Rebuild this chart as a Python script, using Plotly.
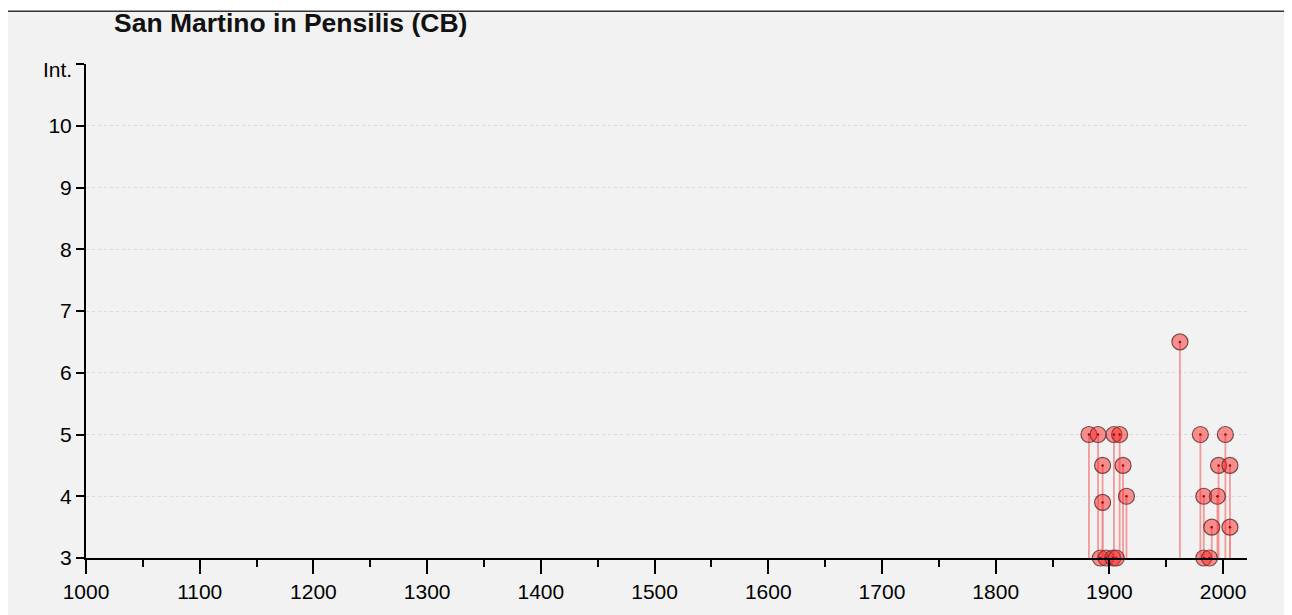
import plotly.graph_objects as go

# ---- data ----
years = [1882, 1890, 1904, 1909, 1894, 1912, 1894, 1915, 1892, 1897, 1903, 1906,
         1962, 1980, 2002, 1996, 2006, 1983, 1995, 1990, 2006, 1983, 1988]
intensities = [5, 5, 5, 5, 4.5, 4.5, 3.9, 4, 3, 3, 3, 3,
               6.5, 5, 5, 4.5, 4.5, 4, 4, 3.5, 3.5, 3, 3]
y_tickvals = [3, 4, 5, 6, 7, 8, 9, 10, 11]
y_ticktext = ["3", "4", "5", "6", "7", "8", "9", "10", ""]
y_top_label = "Int."
x_tickvals = [1000, 1100, 1200, 1300, 1400, 1500, 1600, 1700, 1800, 1900, 2000]
title_text = "San Martino in Pensilis (CB)"
base_level = 3

# page has an 8px body margin; size the figure so it fits the window exactly
OFF = 8
W, H = 1292 - OFF, 615 - OFF
L, T = 86 - OFF, 64 - OFF
pw, ph = 1161, 497
R, B = W - L - pw, H - T - ph

def px_x(p):  # page pixel -> paper coord
    return (p - OFF - L) / pw

def px_y(p):
    return (T + ph - (p - OFF)) / ph

# stems built from data
stem_x, stem_y = [], []
for yr, v in zip(years, intensities):
    stem_x += [yr, yr, None]
    stem_y += [base_level, v, None]

fig = go.Figure()
fig.add_trace(go.Scatter(x=stem_x, y=stem_y, mode="lines",
                         line=dict(color="rgba(245,130,130,0.8)", width=1.8),
                         hoverinfo="skip", showlegend=False, cliponaxis=False))
fig.add_trace(go.Scatter(x=years, y=intensities, mode="markers",
                         marker=dict(symbol="circle", size=16,
                                     color="rgba(255,40,40,0.5)",
                                     line=dict(color="rgba(100,50,50,0.85)", width=1.2)),
                         showlegend=False, cliponaxis=False))
fig.add_trace(go.Scatter(x=years, y=intensities, mode="markers",
                         marker=dict(symbol="circle", size=2.5, color="#8a1010"),
                         showlegend=False, cliponaxis=False, hoverinfo="skip"))

font_family = "Liberation Sans, Arial, sans-serif"

shapes = [
    dict(type="rect", xref="paper", yref="paper",
         x0=px_x(7), x1=px_x(1300), y0=px_y(620), y1=px_y(11),
         fillcolor="#f2f2f2", line=dict(width=0), layer="below"),
    dict(type="line", xref="paper", yref="paper",
         x0=px_x(7), x1=px_x(1300), y0=px_y(11), y1=px_y(11),
         line=dict(color="#333333", width=1.5)),
    dict(type="line", xref="paper", yref="paper",
         x0=px_x(7.5), x1=px_x(7.5), y0=px_y(11), y1=px_y(620),
         line=dict(color="#999999", width=1)),
]

fig.update_layout(
    width=W, height=H,
    margin=dict(l=L, r=R, t=T, b=B),
    paper_bgcolor="white",
    plot_bgcolor="rgba(0,0,0,0)",
    font=dict(family=font_family, color="black", size=21),
    shapes=shapes,
    annotations=[
        dict(text="<b>" + title_text + "</b>", xref="paper", yref="paper",
             x=px_x(112), y=px_y(23), xanchor="left", yanchor="middle",
             showarrow=False, font=dict(size=26.5, color="#111111", family=font_family)),
        dict(text=y_top_label, xref="paper", yref="paper",
             x=px_x(74), y=px_y(70), xanchor="right", yanchor="middle",
             showarrow=False, font=dict(size=21, color="black", family=font_family)),
    ],
    xaxis=dict(range=[1000, 2021], tickvals=x_tickvals, showgrid=False, zeroline=False,
               showline=True, linecolor="black", linewidth=2,
               ticks="outside", ticklen=14, tickwidth=2, tickcolor="black",
               minor=dict(dtick=50, ticks="outside", ticklen=7, tickwidth=2, tickcolor="black"),
               tickfont=dict(size=21)),
    yaxis=dict(range=[3, 11], tickvals=y_tickvals, ticktext=y_ticktext,
               showgrid=True, gridcolor="#dadada", griddash="dot", gridwidth=1,
               zeroline=False, showline=True, linecolor="black", linewidth=2,
               ticks="outside", ticklen=8, tickwidth=2, tickcolor="black",
               tickfont=dict(size=21)),
)

fig.write_html("out.html")
